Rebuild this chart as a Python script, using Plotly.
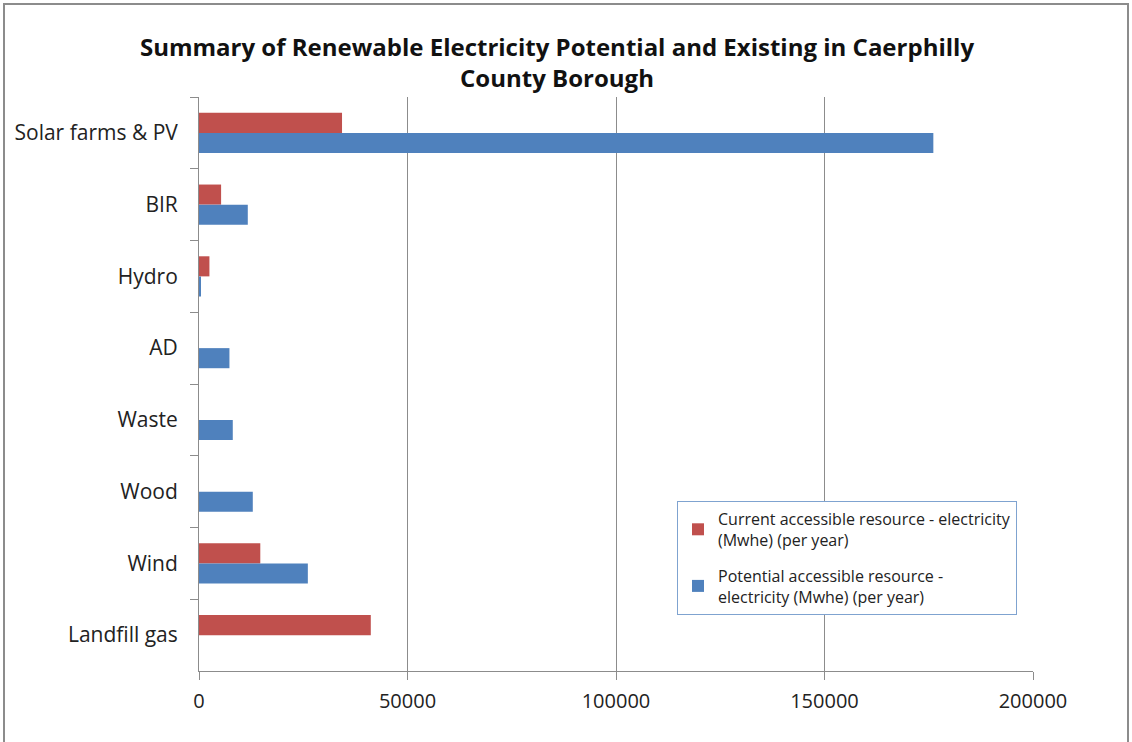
import plotly.graph_objects as go

categories = ["Solar farms & PV", "BIR", "Hydro", "AD", "Waste", "Wood", "Wind", "Landfill gas"]
current = [34300, 5300, 2500, None, None, None, 14700, 41200]
potential = [176100, 11700, 400, 7300, 8100, 12900, 26100, None]
series_names = [
    "Current accessible resource - electricity<br>(Mwhe) (per year)",
    "Potential accessible resource -<br>electricity (Mwhe) (per year)",
]
x_ticks = [0, 50000, 100000, 150000, 200000]

FONT = "Open Sans"
W, H = 1132, 742
L, R, T, B = 199, 1033, 97, 671

fig = go.Figure()
fig.add_trace(go.Bar(y=categories, x=current, orientation="h", name=series_names[0],
                     legendgroup="a",
                     marker=dict(color="#C0504D", line=dict(width=0))))
fig.add_trace(go.Bar(y=categories, x=potential, orientation="h", name=series_names[1],
                     legendgroup="b",
                     marker=dict(color="#4F81BD", line=dict(width=0))))

fig.update_layout(
    width=W, height=H,
    margin=dict(l=L, r=W - R, t=T, b=H - B, pad=0),
    paper_bgcolor="white", plot_bgcolor="white",
    barmode="group", bargap=0.44, bargroupgap=0,
    font=dict(family=FONT, size=20, color="#222222"),
    title=dict(
        text="<b>Summary of Renewable Electricity Potential and Existing in Caerphilly<br>County Borough</b>",
        x=557 / W, xanchor="center", y=1 - 56 / H, yanchor="top",
        font=dict(family=FONT, size=24, color="#111111"),
    ),
    legend=dict(
        x=(677 - L) / (R - L), y=(B - 501) / (B - T), xanchor="left", yanchor="top",
        bordercolor="#7FA3D0", borderwidth=1, bgcolor="white",
        font=dict(family=FONT, size=16, color="#222222"),
        traceorder="grouped", itemsizing="constant", itemwidth=30, tracegroupgap=12,
    ),
    showlegend=True,
)
fig.update_xaxes(
    range=[0, 200000], tickvals=x_ticks, ticktext=[str(v) for v in x_ticks],
    showgrid=True, gridcolor="#8C8C8C", gridwidth=1,
    showline=True, linecolor="#8C8C8C", linewidth=1,
    ticks="outside", ticklen=8, tickcolor="#8C8C8C",
    tickfont=dict(size=20), zeroline=False, mirror=False, ticklabelstandoff=4,
)
fig.update_yaxes(
    categoryorder="array", categoryarray=categories, autorange="reversed",
    showline=True, linecolor="#8C8C8C", linewidth=1,
    ticks="outside", ticklen=8, tickcolor="#8C8C8C", tickson="boundaries",
    tickfont=dict(size=21), showgrid=False, ticklabelstandoff=16,
)
# outer chart border
fig.add_shape(type="rect", xref="paper", yref="paper",
              x0=(4 - L) / (R - L), x1=(1128 - L) / (R - L),
              y0=(B - 745) / (B - T), y1=(B - 4) / (B - T),
              line=dict(color="#8C8C8C", width=2), layer="below")

fig.write_html("out.html")
